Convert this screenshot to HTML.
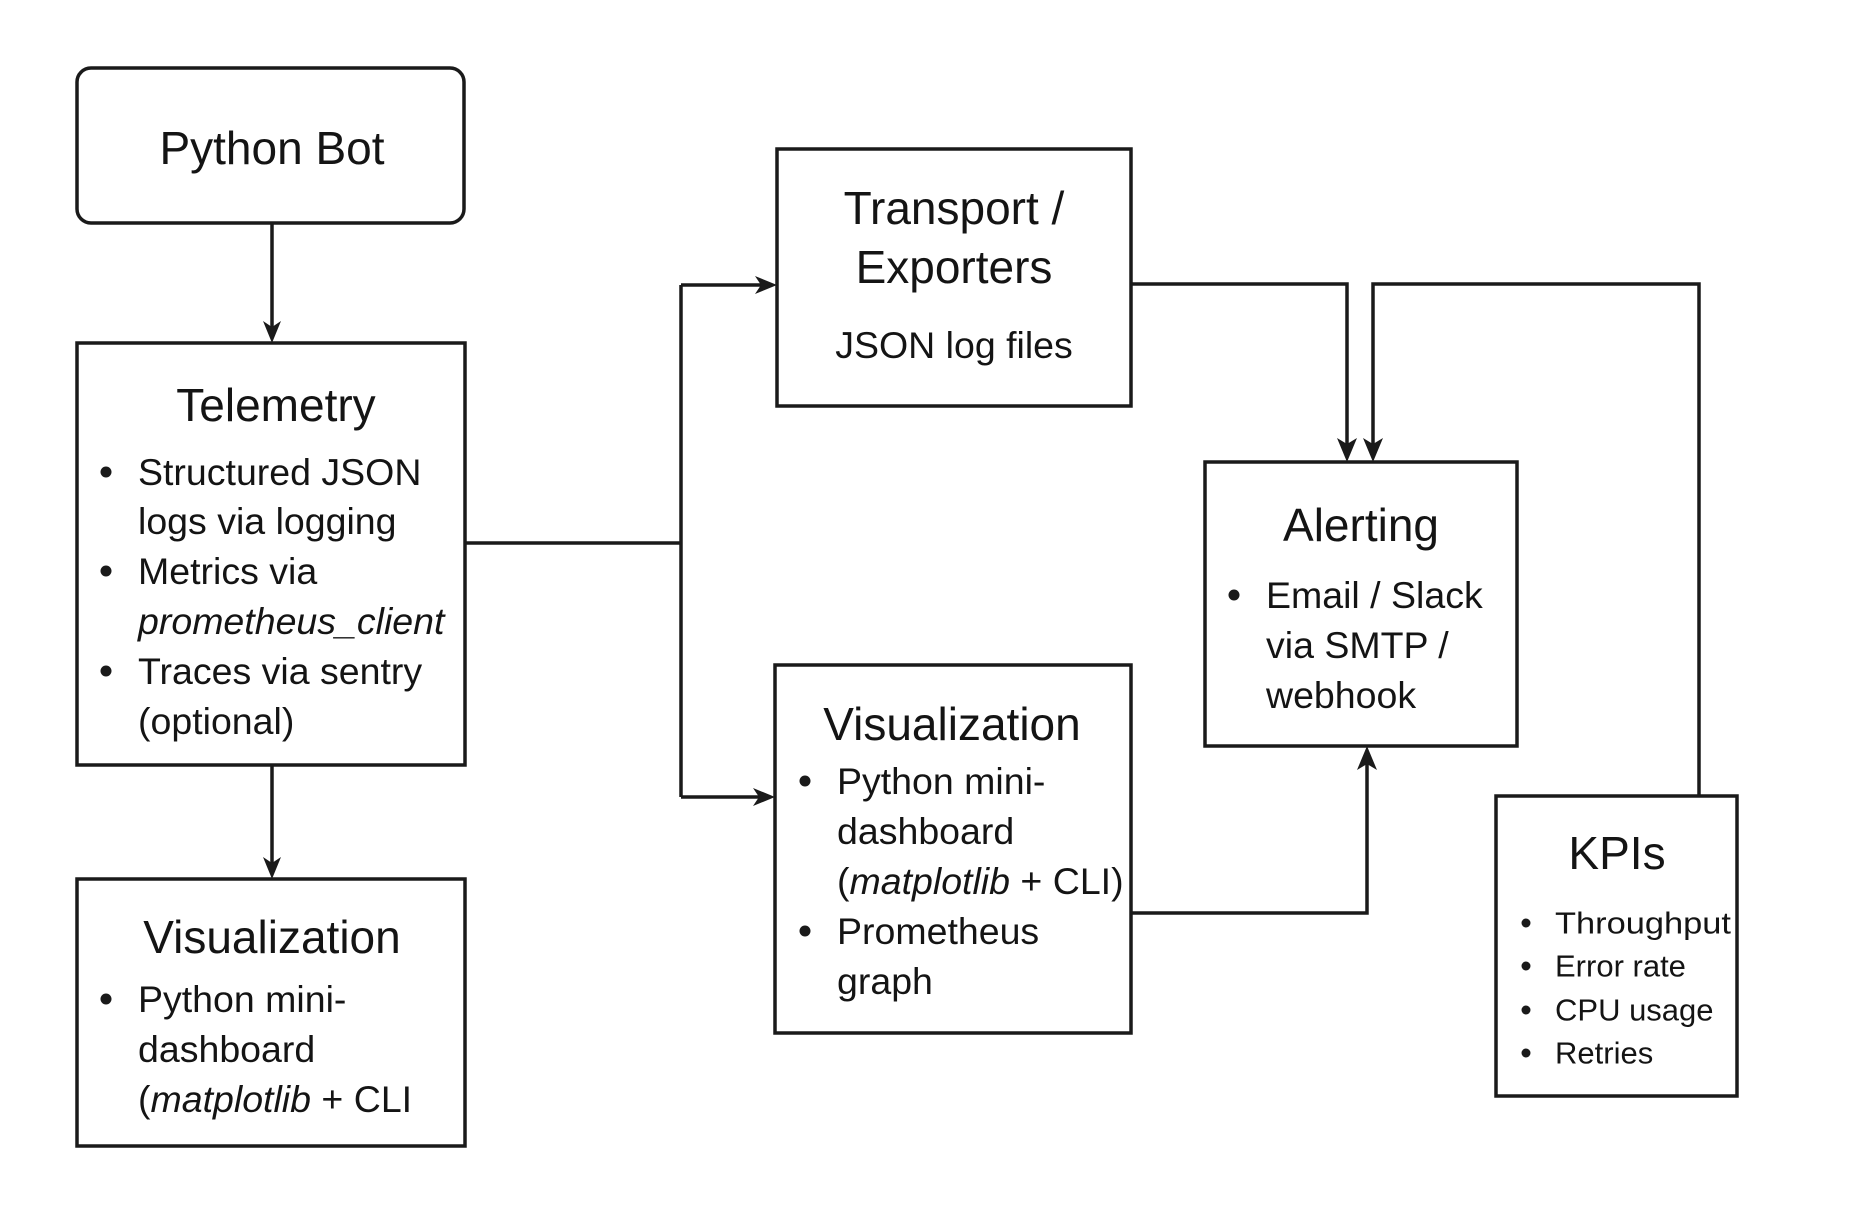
<!DOCTYPE html>
<html><head><meta charset="utf-8"><style>
html,body{margin:0;padding:0;background:#fff;}
svg{display:block;}
text{font-family:"Liberation Sans","DejaVu Sans",sans-serif;fill:#141414;}
.t{font-size:46px;}
.b{font-size:37.5px;}
.k{font-size:31px;}
circle{fill:#1a1a1a;}
</style></head><body>
<svg width="1867" height="1220" viewBox="0 0 1867 1220" xmlns="http://www.w3.org/2000/svg">
<g fill="none" stroke="#1a1a1a" stroke-width="3.5">
<rect x="77" y="68" width="387" height="155" rx="14"/>
<rect x="77" y="343" width="388" height="422"/>
<rect x="77" y="879" width="388" height="267"/>
<rect x="777" y="149" width="354" height="257"/>
<rect x="775" y="665" width="356" height="368"/>
<rect x="1205" y="462" width="312" height="284"/>
<rect x="1496" y="796" width="241" height="300"/>
<polyline points="272,223 272,330"/>
<polyline points="272,765 272,866"/>
<polyline points="465,543 681,543"/>
<polyline points="681,285 681,797"/>
<polyline points="681,285 764,285"/>
<polyline points="681,797 762,797"/>
<polyline points="1131,284 1347,284 1347,449"/>
<polyline points="1699,796 1699,284 1373,284 1373,449"/>
<polyline points="1131,913 1367,913 1367,759"/>
</g>
<g fill="#1a1a1a">
<polygon points="272,343 263,321 272,327 281,321"/>
<polygon points="272,879 263,857 272,863 281,857"/>
<polygon points="777,285 755,276 761,285 755,294"/>
<polygon points="775,797 753,788 759,797 753,806"/>
<polygon points="1347,462 1337,438 1347,444 1357,438"/>
<polygon points="1373,462 1363,438 1373,444 1383,438"/>
<polygon points="1367,746 1357,770 1367,764 1377,770"/>
</g>
<g>
<circle cx="106" cy="472" r="5.5"/><circle cx="106" cy="571" r="5.5"/><circle cx="106" cy="671" r="5.5"/>
<circle cx="106" cy="999" r="5.5"/>
<circle cx="805" cy="781" r="5.5"/><circle cx="805" cy="931" r="5.5"/>
<circle cx="1234" cy="595" r="5.5"/>
<circle cx="1526" cy="923" r="4.5"/><circle cx="1526" cy="966" r="4.5"/><circle cx="1526" cy="1010" r="4.5"/><circle cx="1526" cy="1053" r="4.5"/>
</g>
<g dominant-baseline="central">
<text class="t" x="272" y="148" text-anchor="middle">Python Bot</text>

<text class="t" x="276" y="405" text-anchor="middle">Telemetry</text>
<text class="b" x="138" y="472">Structured JSON</text>
<text class="b" x="138" y="521">logs via logging</text>
<text class="b" x="138" y="571">Metrics via</text>
<text class="b" x="138" y="621" font-style="italic">prometheus_client</text>
<text class="b" x="138" y="671">Traces via sentry</text>
<text class="b" x="138" y="721">(optional)</text>

<text class="t" x="272" y="937" text-anchor="middle">Visualization</text>
<text class="b" x="138" y="999">Python mini-</text>
<text class="b" x="138" y="1049">dashboard</text>
<text class="b" x="138" y="1099">(<tspan font-style="italic">matplotlib</tspan> + CLI</text>

<text class="t" x="954" y="208" text-anchor="middle">Transport /</text>
<text class="t" x="954" y="267" text-anchor="middle">Exporters</text>
<text class="b" x="954" y="345" text-anchor="middle">JSON log files</text>

<text class="t" x="952" y="724" text-anchor="middle">Visualization</text>
<text class="b" x="837" y="781">Python mini-</text>
<text class="b" x="837" y="831">dashboard</text>
<text class="b" x="837" y="881">(<tspan font-style="italic">matplotlib</tspan> + CLI)</text>
<text class="b" x="837" y="931">Prometheus</text>
<text class="b" x="837" y="981">graph</text>

<text class="t" x="1361" y="525" text-anchor="middle">Alerting</text>
<text class="b" x="1266" y="595">Email / Slack</text>
<text class="b" x="1266" y="645">via SMTP /</text>
<text class="b" x="1266" y="695">webhook</text>

<text class="t" x="1617" y="853" text-anchor="middle">KPIs</text>
<text class="k" x="1555" y="923" textLength="176" lengthAdjust="spacingAndGlyphs">Throughput</text>
<text class="k" x="1555" y="966">Error rate</text>
<text class="k" x="1555" y="1010">CPU usage</text>
<text class="k" x="1555" y="1053">Retries</text>
</g>
</svg>
</body></html>
